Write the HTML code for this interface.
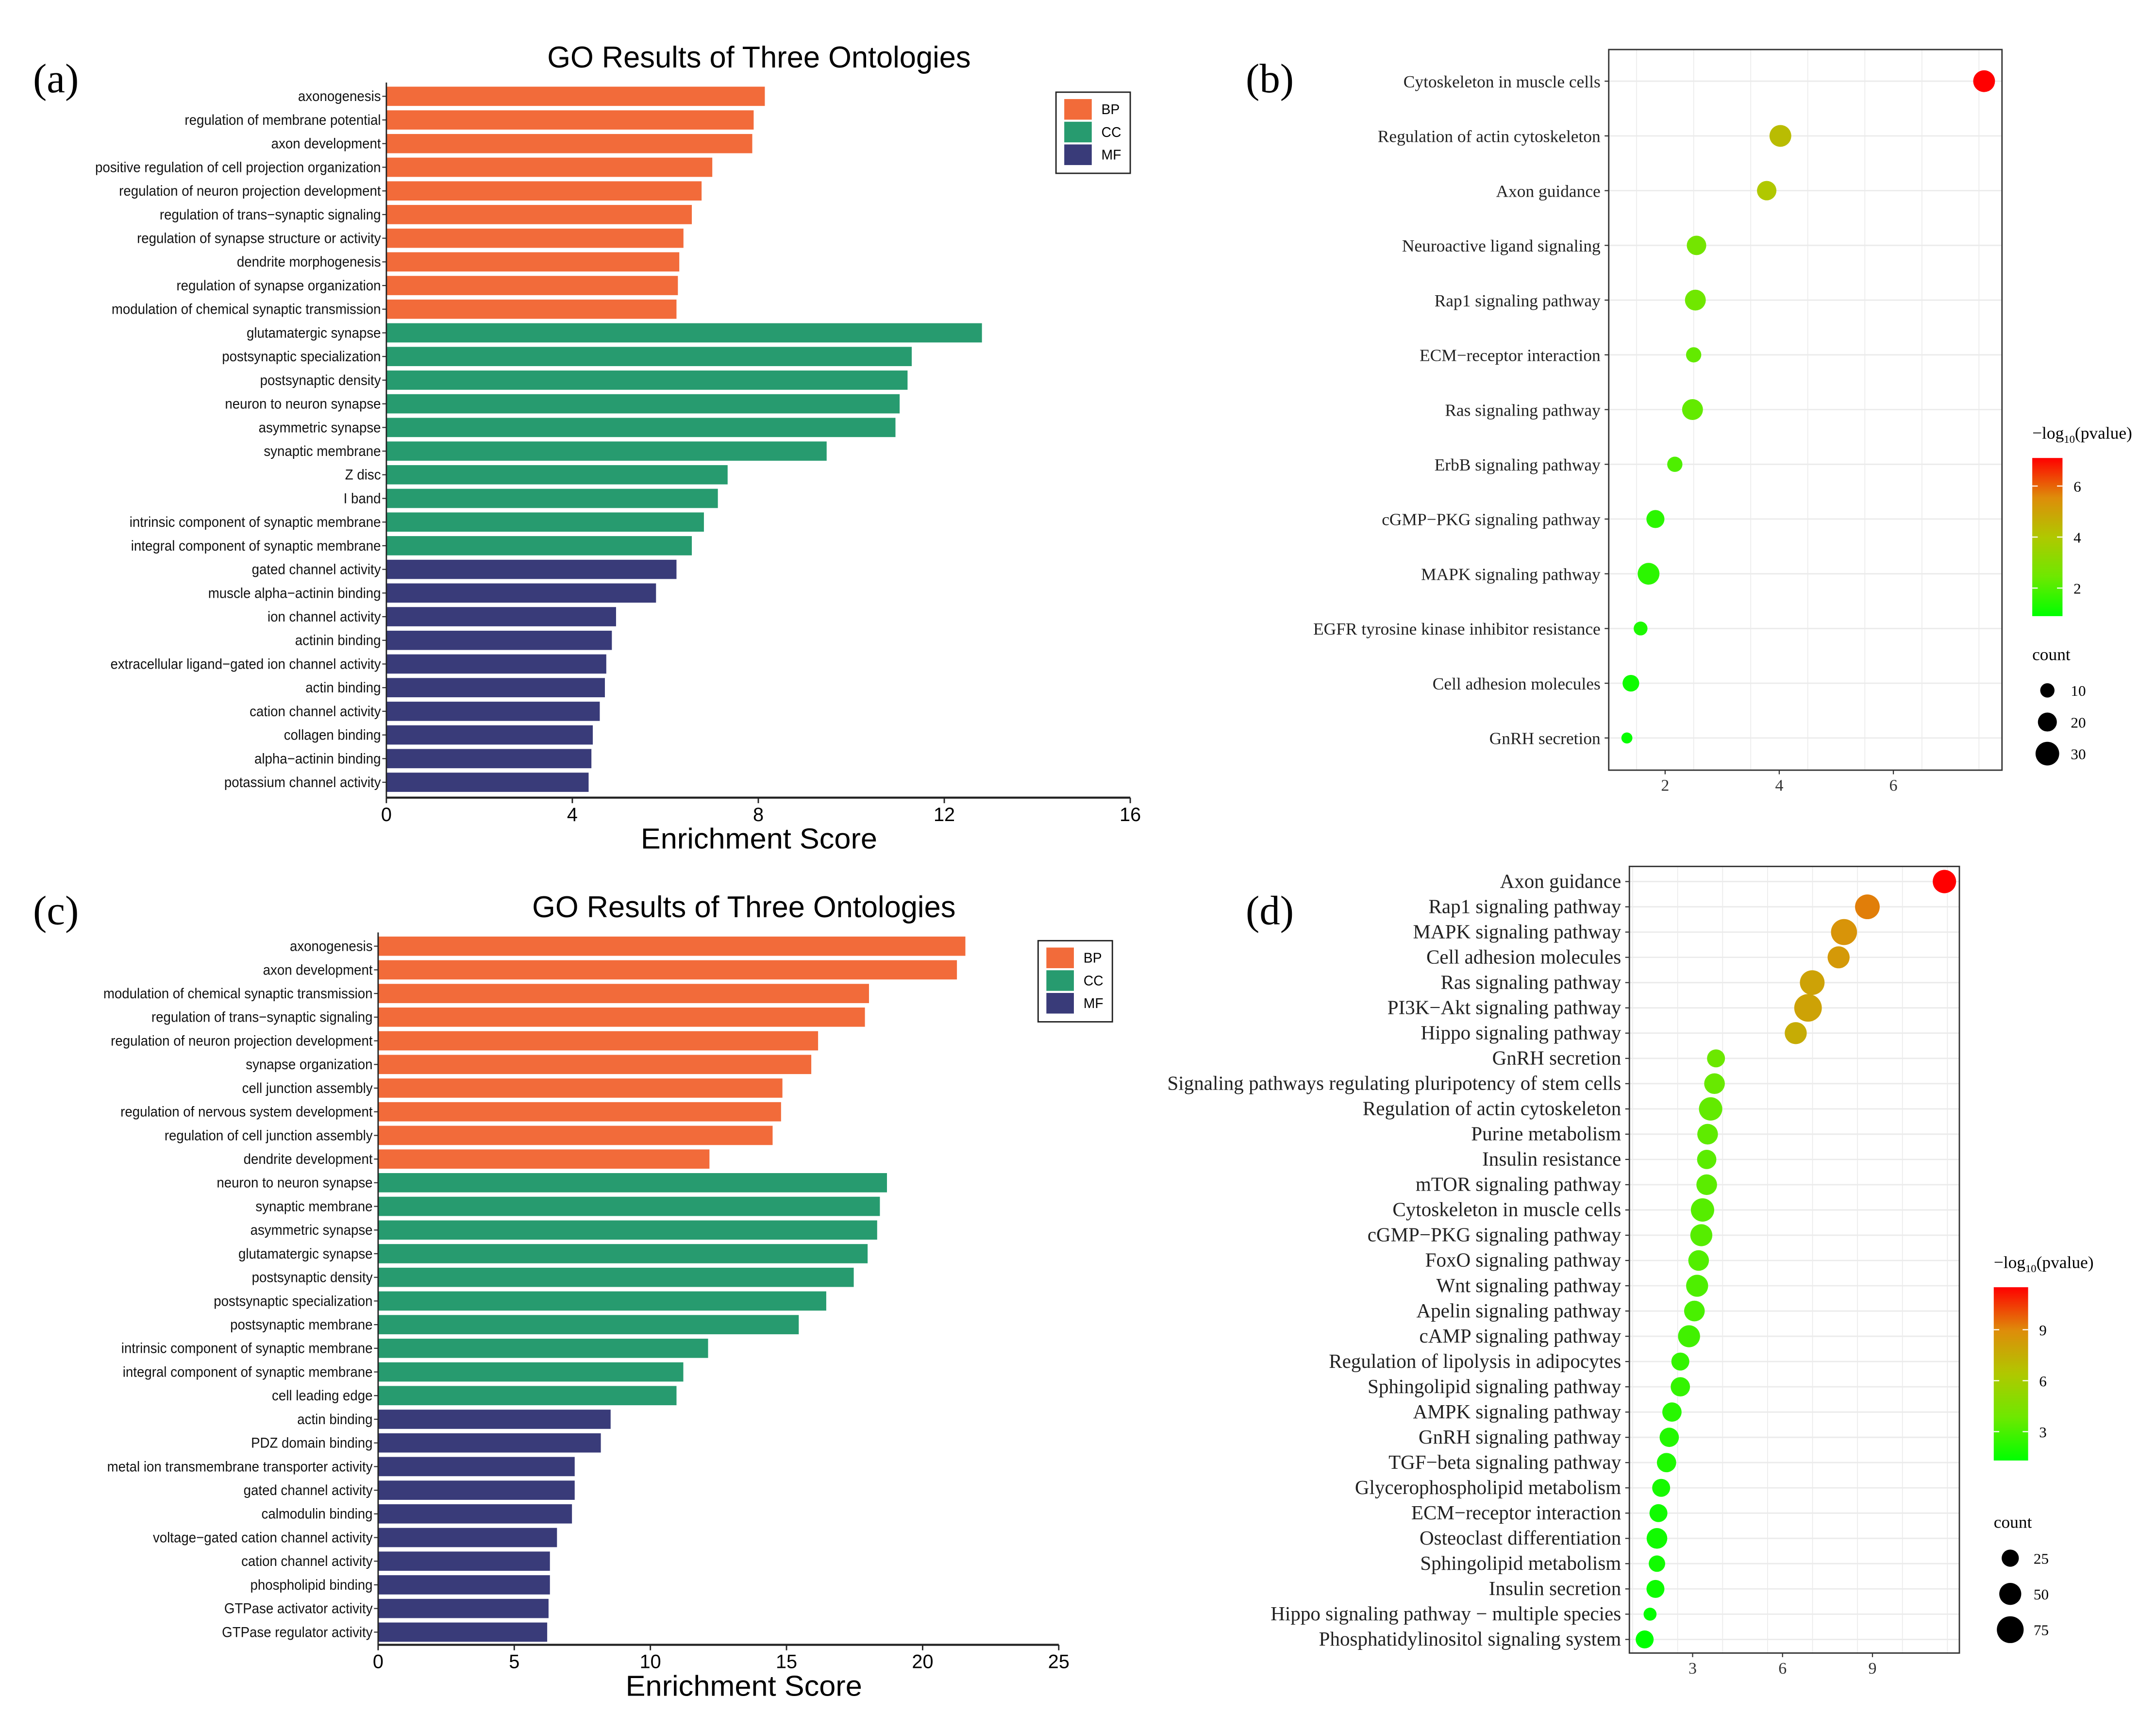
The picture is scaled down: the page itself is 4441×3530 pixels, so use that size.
<!DOCTYPE html>
<html><head><meta charset="utf-8">
<style>
html,body{margin:0;padding:0;background:#fff;}
svg{display:block;}
text{font-family:"Liberation Sans",Arial,sans-serif;}
.serif{font-family:"Liberation Serif","Times New Roman",serif;}
</style></head>
<body>
<svg id="fig" xmlns="http://www.w3.org/2000/svg" width="4441" height="3530" viewBox="0 0 1568 1246.3">
<rect x="0" y="0" width="1568" height="1247" fill="#fff"/>
<text class="serif" x="24" y="67" font-size="30">(a)</text>
<text class="serif" x="906" y="67" font-size="30">(b)</text>
<text class="serif" x="24" y="672" font-size="30">(c)</text>
<text class="serif" x="906" y="672" font-size="30">(d)</text>
<g id="pa"></g>
<g id="pc"></g>
<g id="pb"></g>
<g id="pd"></g>
</svg>
<script>
// ---------- Panel (a) data ----------
const aCategories = ["axonogenesis","regulation of membrane potential","axon development","positive regulation of cell projection organization","regulation of neuron projection development","regulation of trans\u2212synaptic signaling","regulation of synapse structure or activity","dendrite morphogenesis","regulation of synapse organization","modulation of chemical synaptic transmission","glutamatergic synapse","postsynaptic specialization","postsynaptic density","neuron to neuron synapse","asymmetric synapse","synaptic membrane","Z disc","I band","intrinsic component of synaptic membrane","integral component of synaptic membrane","gated channel activity","muscle alpha\u2212actinin binding","ion channel activity","actinin binding","extracellular ligand\u2212gated ion channel activity","actin binding","cation channel activity","collagen binding","alpha\u2212actinin binding","potassium channel activity"];
const aValues = [8.14,7.9,7.87,7.01,6.78,6.57,6.39,6.3,6.27,6.24,12.81,11.3,11.21,11.04,10.95,9.47,7.34,7.13,6.83,6.57,6.24,5.8,4.94,4.85,4.73,4.7,4.59,4.44,4.41,4.35];
const aGroups = ["BP","BP","BP","BP","BP","BP","BP","BP","BP","BP","CC","CC","CC","CC","CC","CC","CC","CC","CC","CC","MF","MF","MF","MF","MF","MF","MF","MF","MF","MF"];
const aTicks = [0,4,8,12,16];
// ---------- Panel (c) data ----------
const cCategories = ["axonogenesis","axon development","modulation of chemical synaptic transmission","regulation of trans\u2212synaptic signaling","regulation of neuron projection development","synapse organization","cell junction assembly","regulation of nervous system development","regulation of cell junction assembly","dendrite development","neuron to neuron synapse","synaptic membrane","asymmetric synapse","glutamatergic synapse","postsynaptic density","postsynaptic specialization","postsynaptic membrane","intrinsic component of synaptic membrane","integral component of synaptic membrane","cell leading edge","actin binding","PDZ domain binding","metal ion transmembrane transporter activity","gated channel activity","calmodulin binding","voltage\u2212gated cation channel activity","cation channel activity","phospholipid binding","GTPase activator activity","GTPase regulator activity"];
const cValues = [21.57,21.26,18.03,17.88,16.16,15.91,14.85,14.8,14.49,12.17,18.69,18.43,18.33,17.98,17.47,16.46,15.45,12.12,11.21,10.96,8.54,8.18,7.22,7.22,7.12,6.57,6.31,6.31,6.26,6.21];
const cGroups = aGroups.slice();
const cTicks = [0,5,10,15,20,25];
// ---------- Panel (b) data ----------
const bPathways = ["Cytoskeleton in muscle cells","Regulation of actin cytoskeleton","Axon guidance","Neuroactive ligand signaling","Rap1 signaling pathway","ECM\u2212receptor interaction","Ras signaling pathway","ErbB signaling pathway","cGMP\u2212PKG signaling pathway","MAPK signaling pathway","EGFR tyrosine kinase inhibitor resistance","Cell adhesion molecules","GnRH secretion"];
const bEnrich = [7.59,4.02,3.78,2.55,2.53,2.5,2.48,2.17,1.83,1.71,1.57,1.4,1.33];
const bCounts = [26,26,21,21,24,12,24,12,18,26,9,15,3];
const bLogP = [7.1,4.3,4.0,2.6,2.5,2.3,2.3,2.0,1.5,1.5,1.3,1.1,1.0];
const bTicks = [2,4,6];
const bColorTicks = [2,4,6];
const bSizeTicks = [10,20,30];
// ---------- Panel (d) data ----------
const dPathways = ["Axon guidance","Rap1 signaling pathway","MAPK signaling pathway","Cell adhesion molecules","Ras signaling pathway","PI3K\u2212Akt signaling pathway","Hippo signaling pathway","GnRH secretion","Signaling pathways regulating pluripotency of stem cells","Regulation of actin cytoskeleton","Purine metabolism","Insulin resistance","mTOR signaling pathway","Cytoskeleton in muscle cells","cGMP\u2212PKG signaling pathway","FoxO signaling pathway","Wnt signaling pathway","Apelin signaling pathway","cAMP signaling pathway","Regulation of lipolysis in adipocytes","Sphingolipid signaling pathway","AMPK signaling pathway","GnRH signaling pathway","TGF\u2212beta signaling pathway","Glycerophospholipid metabolism","ECM\u2212receptor interaction","Osteoclast differentiation","Sphingolipid metabolism","Insulin secretion","Hippo signaling pathway \u2212 multiple species","Phosphatidylinositol signaling system"];
const dEnrich = [11.4,8.83,8.05,7.87,6.99,6.85,6.44,3.78,3.73,3.6,3.5,3.47,3.47,3.33,3.29,3.2,3.15,3.06,2.88,2.59,2.59,2.31,2.22,2.13,1.95,1.86,1.81,1.81,1.76,1.58,1.4];
const dCounts = [57,64,71,50,64,79,50,29,43,57,43,36,43,57,50,43,50,43,50,29,36,36,36,36,29,29,43,21,29,3,29];
const dLogP = [11.5,9.2,8.6,8.4,8.0,8.0,7.6,3.8,3.7,3.6,3.5,3.4,3.4,3.3,3.3,3.2,3.1,3.0,2.8,2.5,2.5,2.2,2.1,2.0,1.8,1.7,1.7,1.7,1.6,1.4,1.3];
const dTicks = [3,6,9];
const dColorTicks = [3,6,9];
const dSizeTicks = [25,50,75];

const NS = "http://www.w3.org/2000/svg";
const GROUP_COLORS = {BP:"#f26b3a", CC:"#279b6f", MF:"#393b79"};
function mk(parent, tag, attrs, txt){
  const e = document.createElementNS(NS, tag);
  for (const k in attrs) e.setAttribute(k, attrs[k]);
  if (txt !== undefined) e.textContent = txt;
  parent.appendChild(e);
  return e;
}
function lerp(a,b,t){return a+(b-a)*t;}
const STOPS = [[0,[0,255,0]],[0.25,[110,232,0]],[0.5,[176,200,0]],[0.75,[222,140,10]],[1,[255,0,0]]];
function gradColor(t){
  t = Math.max(0, Math.min(1, t));
  for (let i=1;i<STOPS.length;i++){
    if (t <= STOPS[i][0]){
      const a=STOPS[i-1], b=STOPS[i], u=(t-a[0])/(b[0]-a[0]);
      return "rgb("+[0,1,2].map(j=>Math.round(lerp(a[1][j],b[1][j],u))).join(",")+")";
    }
  }
  return "rgb(255,0,0)";
}

function barChart(g, cats, vals, groups, ticks, cfg){
  const sx = v => cfg.x0 + (v - ticks[0]) / (ticks[ticks.length-1] - ticks[0]) * (cfg.x1 - cfg.x0);
  const sy = i => cfg.yTop + i * cfg.step;
  const t = mk(g,"text",{x:cfg.titleX,y:cfg.titleY,"font-size":22,"text-anchor":"middle",textLength:308,lengthAdjust:"spacingAndGlyphs"},"GO Results of Three Ontologies");
  
  
  cats.forEach((c,i)=>{
    const y = sy(i);
    const r = mk(g,"rect",{x:sx(0),y:y-cfg.barH/2,width:sx(vals[i])-sx(0),height:cfg.barH,fill:GROUP_COLORS[groups[i]]});
    
    
    const tl = mk(g,"text",{transform:"translate("+(cfg.x0-4)+","+(y+3.5)+") scale(0.93,1)","font-size":10.5,"text-anchor":"end",fill:"#111"},c);
    
    
    mk(g,"line",{x1:cfg.x0-3,x2:cfg.x0,y1:y,y2:y,stroke:"#333","stroke-width":0.8});
  });
  const yl = mk(g,"line",{x1:cfg.x0,x2:cfg.x0,y1:cfg.axisTop,y2:cfg.axisY,stroke:"#222","stroke-width":1});
  
  
  const xl = mk(g,"line",{x1:cfg.x0,x2:cfg.x1,y1:cfg.axisY,y2:cfg.axisY,stroke:"#222","stroke-width":1.5});
  
  
  ticks.forEach(v=>{
    mk(g,"line",{x1:sx(v),x2:sx(v),y1:cfg.axisY,y2:cfg.axisY+4,stroke:"#222","stroke-width":1});
    const tt = mk(g,"text",{x:sx(v),y:cfg.axisY+17,"font-size":14,"text-anchor":"middle"},String(v));
    
    
  });
  const at = mk(g,"text",{x:cfg.titleX,y:cfg.axisY+37,"font-size":21,"text-anchor":"middle",textLength:172,lengthAdjust:"spacingAndGlyphs"},"Enrichment Score");
  
  
  const lg = mk(g,"g",{});
  
  
  mk(lg,"rect",{x:cfg.legX,y:cfg.legY,width:54,height:59,fill:"#fff",stroke:"#222","stroke-width":1});
  ["BP","CC","MF"].forEach((k,i)=>{
    const e = mk(lg,"rect",{x:cfg.legX+6,y:cfg.legY+5+i*16.5,width:20,height:15,fill:GROUP_COLORS[k]});
    
    
    mk(lg,"text",{x:cfg.legX+33,y:cfg.legY+16+i*16.5,"font-size":10},k);
  });
}
barChart(document.getElementById("pa"), aCategories, aValues, aGroups, aTicks,
  {x0:281,x1:822,yTop:70,step:17.2,barH:14,axisTop:60,axisY:580,titleX:552,titleY:49,legX:768,legY:67});
barChart(document.getElementById("pc"), cCategories, cValues, cGroups, cTicks,
  {x0:275,x1:770,yTop:688,step:17.2,barH:14,axisTop:678,axisY:1196,titleX:541,titleY:667,legX:755,legY:684});

function dotPlot(g, paths, xs, counts, logp, ticks, cfg){
  const sx = v => cfg.xa + (v - cfg.va) * cfg.ppu;
  const sy = i => cfg.yTop + i * cfg.step;
  const rad = c => cfg.r0 + cfg.rk * c;
  mk(g,"rect",{x:cfg.bx0,y:cfg.by0,width:cfg.bx1-cfg.bx0,height:cfg.by1-cfg.by0,fill:"#fff"});
  for (let v=Math.ceil((cfg.bx0-cfg.xa)/cfg.ppu*2)/2+cfg.va; sx(v)<cfg.bx1; v+=ticks[1]-ticks[0]>2?1.5:1){
    if (sx(v)>cfg.bx0) mk(g,"line",{x1:sx(v),x2:sx(v),y1:cfg.by0,y2:cfg.by1,stroke:"#ebebeb","stroke-width":ticks.includes(v)?1:0.6});
  }
  paths.forEach((p,i)=>mk(g,"line",{x1:cfg.bx0,x2:cfg.bx1,y1:sy(i),y2:sy(i),stroke:"#ebebeb","stroke-width":1}));
  const box = mk(g,"rect",{x:cfg.bx0,y:cfg.by0,width:cfg.bx1-cfg.bx0,height:cfg.by1-cfg.by0,fill:"none",stroke:"#333","stroke-width":1});
  
  
  paths.forEach((p,i)=>{
    const y = sy(i);
    const tl = mk(g,"text",{x:cfg.bx0-6,y:y+4.5,"font-size":cfg.fs,"text-anchor":"end","class":"serif",fill:"#222"},p);
    
    
    mk(g,"line",{x1:cfg.bx0-3,x2:cfg.bx0,y1:y,y2:y,stroke:"#333","stroke-width":0.8});
    const c = mk(g,"circle",{cx:sx(xs[i]),cy:y,r:rad(counts[i]),fill:gradColor((logp[i]-cfg.cmin)/(cfg.cmax-cfg.cmin))});
    
    
  });
  ticks.forEach(v=>{
    mk(g,"line",{x1:sx(v),x2:sx(v),y1:cfg.by1,y2:cfg.by1+3,stroke:"#333","stroke-width":0.8});
    const tt = mk(g,"text",{x:sx(v),y:cfg.by1+15,"font-size":12,"text-anchor":"middle","class":"serif",fill:"#333"},String(v));
    
    
  });
  const lg = mk(g,"g",{});
  
  
  const tt = mk(lg,"text",{x:cfg.lx,y:cfg.ly-14,"font-size":12.5,"class":"serif"});
  tt.innerHTML = '\u2212log<tspan font-size="8" dy="3">10</tspan><tspan dy="-3">(pvalue)</tspan>';
  const gid = "grad"+cfg.id;
  const defs = mk(g,"defs",{});
  const lgd = mk(defs,"linearGradient",{id:gid,x1:0,y1:1,x2:0,y2:0});
  STOPS.forEach(s=>mk(lgd,"stop",{offset:s[0],"stop-color":"rgb("+s[1].join(",")+")"}));
  mk(lg,"rect",{x:cfg.lx,y:cfg.ly,width:cfg.lw,height:cfg.lh,fill:"url(#"+gid+")"});
  const cy = v => cfg.ly + cfg.lh - (v-cfg.cmin)/(cfg.cmax-cfg.cmin)*cfg.lh;
  cfg.cticks.forEach(v=>{
    mk(lg,"line",{x1:cfg.lx,x2:cfg.lx+4,y1:cy(v),y2:cy(v),stroke:"#fff","stroke-width":0.8});
    mk(lg,"line",{x1:cfg.lx+cfg.lw-4,x2:cfg.lx+cfg.lw,y1:cy(v),y2:cy(v),stroke:"#fff","stroke-width":0.8});
    mk(lg,"text",{x:cfg.lx+cfg.lw+8,y:cy(v)+4,"font-size":11,"class":"serif"},String(v));
  });
  const sl = mk(g,"g",{});
  
  
  mk(sl,"text",{x:cfg.lx,y:cfg.sy0-22,"font-size":12.5,"class":"serif"},"count");
  cfg.sticks.forEach((v,i)=>{
    mk(sl,"circle",{cx:cfg.lx+cfg.sdx,cy:cfg.sy0+i*cfg.sstep,r:rad(v),fill:"#000"});
    mk(sl,"text",{x:cfg.lx+cfg.sdx+17,y:cfg.sy0+i*cfg.sstep+4,"font-size":11,"class":"serif"},String(v));
  });
}
dotPlot(document.getElementById("pb"), bPathways, bEnrich, bCounts, bLogP, bTicks,
  {id:"b",xa:1211,va:2,ppu:41.5,yTop:59,step:39.8,bx0:1170,bx1:1456,by0:36,by1:560,fs:12.5,r0:3.5,rk:0.17,
   cmin:0.9,cmax:7.1,lx:1478,ly:333,lw:22,lh:115,cticks:bColorTicks,sticks:bSizeTicks,sy0:502,sstep:23,sdx:11});
dotPlot(document.getElementById("pd"), dPathways, dEnrich, dCounts, dLogP, dTicks,
  {id:"d",xa:1231,va:3,ppu:21.8,yTop:641,step:18.37,bx0:1185,bx1:1425,by0:630,by1:1202,fs:14.5,r0:4.5,rk:0.07,
   cmin:1.3,cmax:11.5,lx:1450,ly:936,lw:25,lh:126,cticks:dColorTicks,sticks:dSizeTicks,sy0:1133,sstep:26,sdx:12});
</script>
</body></html>
